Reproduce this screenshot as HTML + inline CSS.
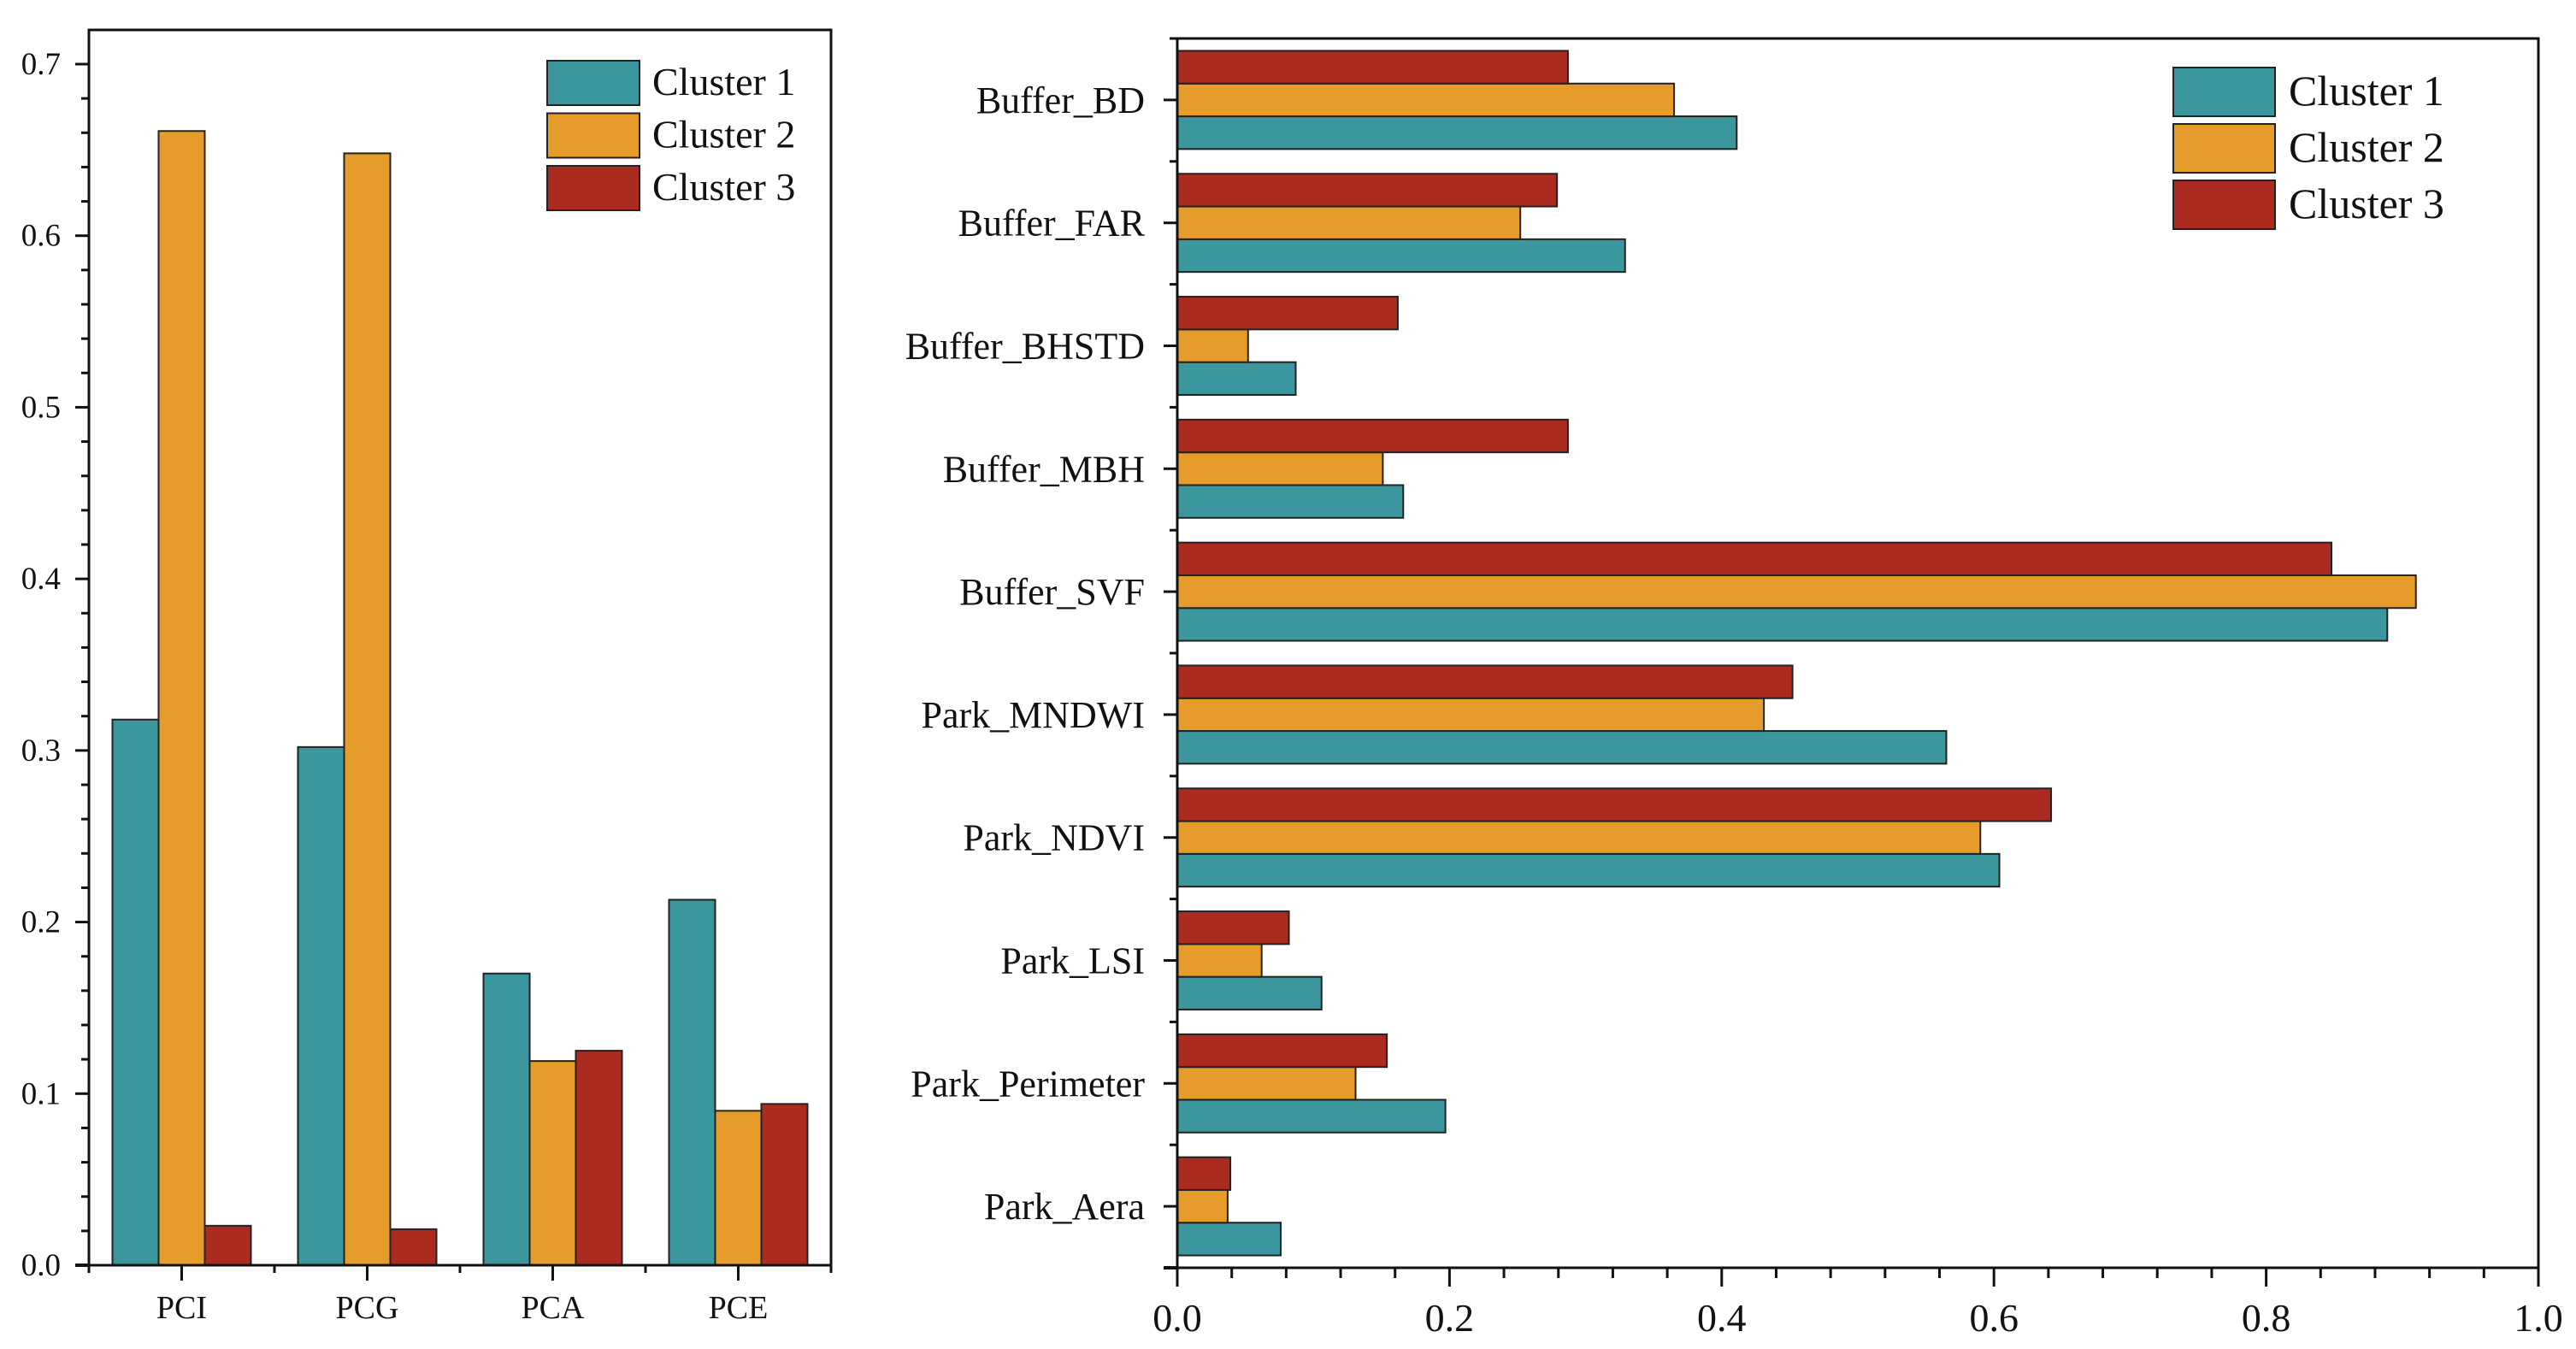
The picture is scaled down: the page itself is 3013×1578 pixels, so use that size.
<!DOCTYPE html>
<html><head><meta charset="utf-8"><style>
html,body{margin:0;padding:0;background:#fff;}
svg{display:block;font-family:"Liberation Serif",serif;}
</style></head><body>
<svg id="chart" width="3013" height="1578" viewBox="0 0 3013 1578"></svg>
<script>
const leftCats=["PCI","PCG","PCA","PCE"];
const leftC1=[0.318,0.302,0.170,0.213];
const leftC2=[0.661,0.648,0.119,0.090];
const leftC3=[0.023,0.021,0.125,0.094];
const leftTicks=[0.0,0.1,0.2,0.3,0.4,0.5,0.6,0.7];
const rightCats=["Buffer_BD","Buffer_FAR","Buffer_BHSTD","Buffer_MBH","Buffer_SVF","Park_MNDWI","Park_NDVI","Park_LSI","Park_Perimeter","Park_Aera"];
const rightC1=[0.411,0.329,0.087,0.166,0.889,0.565,0.604,0.106,0.197,0.076];
const rightC2=[0.365,0.252,0.052,0.151,0.910,0.431,0.590,0.062,0.131,0.037];
const rightC3=[0.287,0.279,0.162,0.287,0.848,0.452,0.642,0.082,0.154,0.039];
const rightTicks=[0.0,0.2,0.4,0.6,0.8,1.0];
const seriesNames=["Cluster 1","Cluster 2","Cluster 3"];
const colors=["#3b969d","#e69c2b","#ab2b20"];

const NS="http://www.w3.org/2000/svg";
const svg=document.getElementById('chart');
function mk(tag,attrs,parent){const e=document.createElementNS(NS,tag);for(const k in attrs)e.setAttribute(k,attrs[k]);(parent||svg).appendChild(e);return e;}

// ---------- LEFT CHART ----------
const L={x0:104,x1:972,y0:1480,y1:35,max:0.7,top:75};
const ly=v=>L.y0-(v/L.max)*(L.y0-L.top);
const band=(L.x1-L.x0)/leftCats.length;
const lx=i=>L.x0+(i+0.5)*band;
const gL=mk('g',{});


const lSeries=[leftC1,leftC2,leftC3];
const bw=54;
lSeries.forEach((arr,s)=>{arr.forEach((v,i)=>{
  const x=lx(i)+(s-1.5)*bw;
  const r=mk('rect',{x:x,y:ly(v),width:bw,height:L.y0-ly(v),fill:colors[s],stroke:"#222","stroke-width":2},gL);
  
  
});});
const lf=mk('rect',{x:L.x0,y:L.y1,width:L.x1-L.x0,height:L.y0-L.y1,fill:"none",stroke:"#111","stroke-width":3},gL);


mk('line',{x1:L.x0-16,x2:L.x0,y1:L.y0,y2:L.y0,stroke:"#111","stroke-width":4},gL);
for(let k=0;k<=35;k++){const v=k*0.02;const y=ly(v);const major=(k%5===0);
  mk('line',{x1:L.x0,x2:L.x0-(major?16:9),y1:y,y2:y,stroke:"#111","stroke-width":3},gL);}
leftTicks.forEach(v=>{const t=mk('text',{x:L.x0-33,y:ly(v)+12,"text-anchor":"end","font-size":37,fill:"#111"},gL);t.textContent=v.toFixed(1);
  
  });
for(let i=0;i<=leftCats.length;i++){const x=L.x0+i*band;mk('line',{x1:x,x2:x,y1:L.y0,y2:L.y0+9,stroke:"#111","stroke-width":3},gL);}
leftCats.forEach((c,i)=>{mk('line',{x1:lx(i),x2:lx(i),y1:L.y0,y2:L.y0+18,stroke:"#111","stroke-width":3},gL);
  const t=mk('text',{x:lx(i),y:1542,"text-anchor":"middle","font-size":38,fill:"#111"},gL);t.textContent=c;
  
  });
const lg=mk('g',{},gL);


seriesNames.forEach((n,s)=>{const y=71+s*61.5;
  const r=mk('rect',{x:640,y:y,width:108,height:52,fill:colors[s],stroke:"#222","stroke-width":2},lg);
  
  
  const t=mk('text',{x:763,y:y+40,"font-size":46,fill:"#111"},lg);t.textContent=n;
  
  });

// ---------- RIGHT CHART ----------
const R={x0:1377,x1:2969,y0:1483,y1:45};
const rx=v=>R.x0+v*(R.x1-R.x0);
const rb=(R.y0-R.y1)/rightCats.length;
const ryc=i=>R.y1+(i+0.5)*rb;
const gR=mk('g',{});


const rSeries=[rightC1,rightC2,rightC3];
const bh=38.3;
rSeries.forEach((arr,s)=>{arr.forEach((v,i)=>{
  const y=ryc(i)+(0.5-s)*bh;
  const r=mk('rect',{x:R.x0,y:y,width:rx(v)-R.x0,height:bh,fill:colors[s],stroke:"#222","stroke-width":2},gR);
  
  
});});
const rf=mk('rect',{x:R.x0,y:R.y1,width:R.x1-R.x0,height:R.y0-R.y1,fill:"none",stroke:"#111","stroke-width":3},gR);


mk('line',{x1:R.x0-16,x2:R.x0,y1:R.y0,y2:R.y0,stroke:"#111","stroke-width":4},gR);
for(let i=0;i<=rightCats.length;i++){const y=R.y1+i*rb;mk('line',{x1:R.x0,x2:R.x0-9,y1:y,y2:y,stroke:"#111","stroke-width":3},gR);}
rightCats.forEach((c,i)=>{mk('line',{x1:R.x0,x2:R.x0-16,y1:ryc(i),y2:ryc(i),stroke:"#111","stroke-width":3},gR);
  const t=mk('text',{x:1339,y:ryc(i)+15,"text-anchor":"end","font-size":44,fill:"#111"},gR);t.textContent=c;
  
  });
for(let k=0;k<=25;k++){const v=k*0.04;const x=rx(v);const major=(k%5===0);
  mk('line',{x1:x,x2:x,y1:R.y0,y2:R.y0+(major?22:12),stroke:"#111","stroke-width":3},gR);}
rightTicks.forEach(v=>{const t=mk('text',{x:rx(v),y:1557,"text-anchor":"middle","font-size":46,fill:"#111"},gR);t.textContent=v.toFixed(1);
  
  });
const rg=mk('g',{},gR);


seriesNames.forEach((n,s)=>{const y=79+s*66;
  const r=mk('rect',{x:2542,y:y,width:119,height:57,fill:colors[s],stroke:"#222","stroke-width":2},rg);
  
  
  const t=mk('text',{x:2677,y:y+44,"font-size":50,fill:"#111"},rg);t.textContent=n;
  
  });
</script>
</body></html>
